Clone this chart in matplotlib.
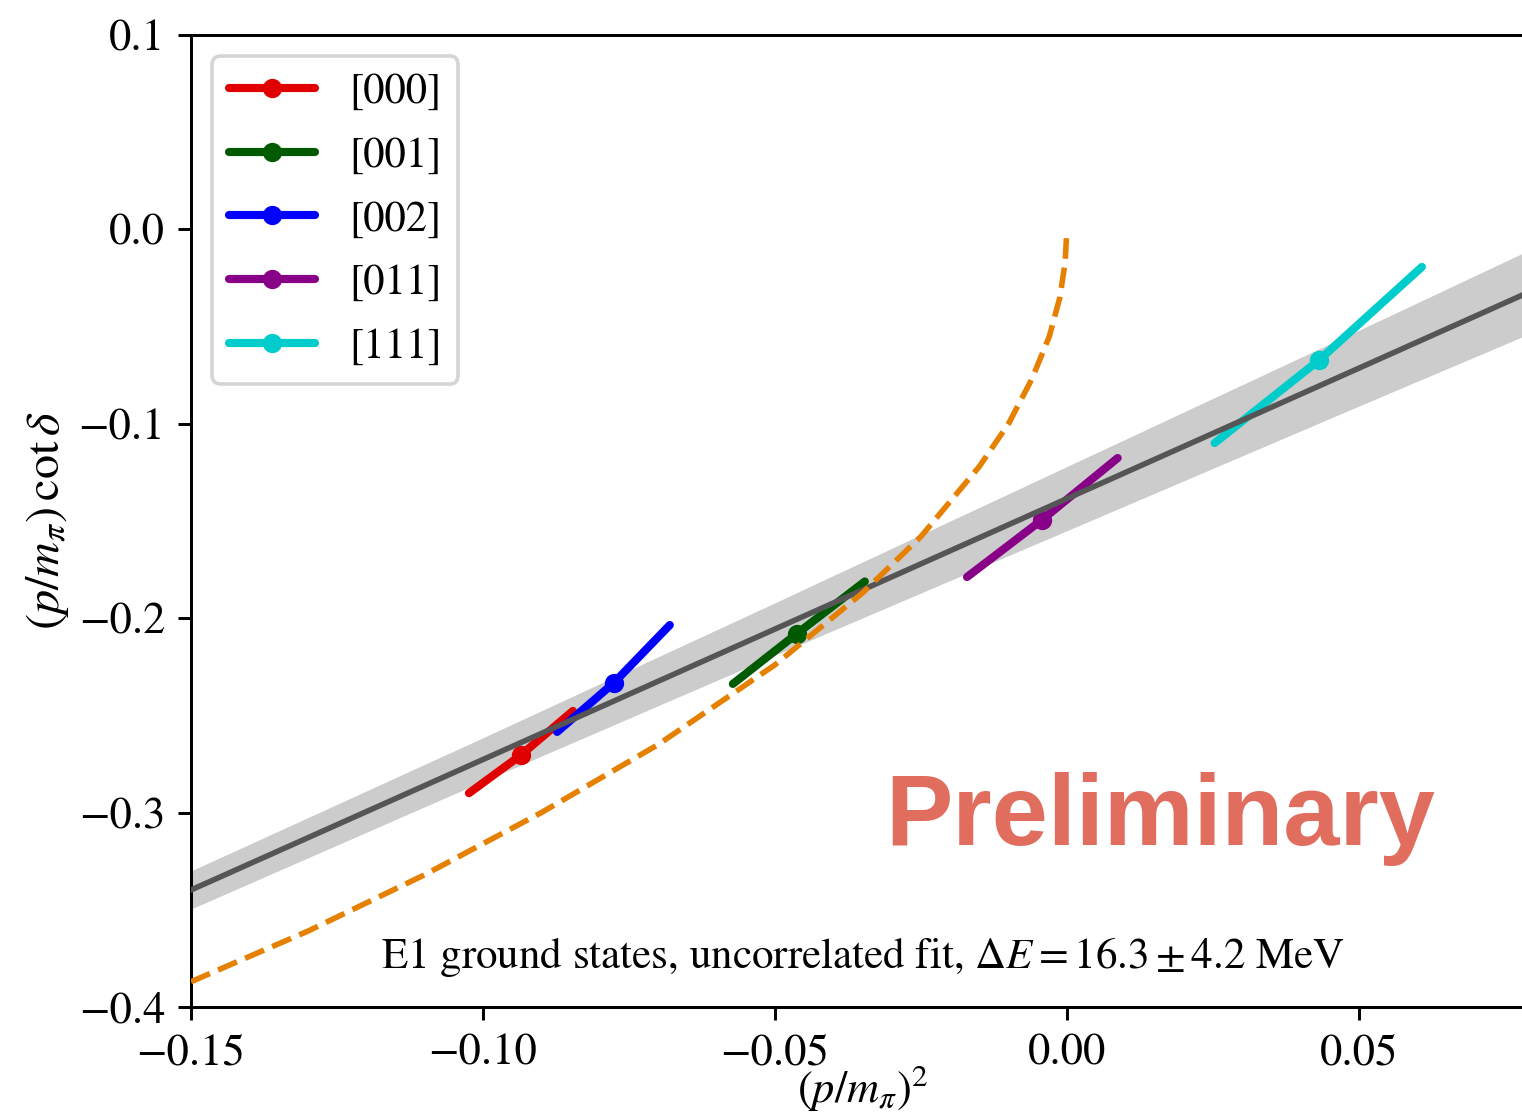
import numpy as np
import matplotlib
matplotlib.use("Agg")
from matplotlib import pyplot as plt
from matplotlib.lines import Line2D

plt.rcParams['font.family'] = 'STIXGeneral'
plt.rcParams['mathtext.fontset'] = 'stix'
plt.rcParams['font.size'] = 12

# data: each momentum frame gives a segment (lower end, central point, upper end)
labels = ['[000]', '[001]', '[002]', '[011]', '[111]']
colors = ['#e00000', '#005a00', '#0000ff', '#880088', '#00cccc']
x_lo = [-0.1024, -0.0572, -0.0873, -0.0171, 0.0253]
x_c = [-0.0935, -0.0463, -0.0776, -0.0043, 0.0432]
x_hi = [-0.0846, -0.0346, -0.0680, 0.0087, 0.0608]
y_lo = [-0.2900, -0.2338, -0.2585, -0.1788, -0.1099]
y_c = [-0.2704, -0.2081, -0.2333, -0.1495, -0.0672]
y_hi = [-0.2477, -0.1811, -0.2035, -0.1176, -0.0193]

# linear fit and its error band
band_x = [-0.15, -0.10, -0.05, 0.00, 0.05, 0.08]
fit_y = [-0.3398, -0.2727, -0.2056, -0.1385, -0.0714, -0.0311]
band_hw = [0.0098, 0.0112, 0.0135, 0.0165, 0.0195, 0.0216]

# bound state curve
curve_x = [-0.15, -0.13, -0.11, -0.09, -0.07, -0.05, -0.035, -0.025, -0.015,
           -0.01, -0.006, -0.003, -0.0012, -0.0003, 0.0]
curve_y = [-0.387, -0.361, -0.332, -0.300, -0.265, -0.224, -0.187, -0.158, -0.122,
           -0.100, -0.077, -0.055, -0.035, -0.017, 0.0]

dpi = 267
fig = plt.figure(figsize=(1522 / dpi, 1116 / dpi), dpi=dpi)
ax = fig.add_axes([191 / 1522, 109 / 1116, 1343 / 1522, 972 / 1116])

fy = np.array(fit_y)
hw = np.array(band_hw)
ax.fill_between(band_x, fy - hw, fy + hw, color='#cccccc', lw=0, zorder=1)

handles = []
for i in range(len(labels)):
    ax.plot([x_lo[i], x_c[i], x_hi[i]], [y_lo[i], y_c[i], y_hi[i]],
            color=colors[i], lw=2.2, solid_capstyle='round', zorder=2)
    ax.plot(x_c[i], y_c[i], 'o', color=colors[i], ms=4.2, zorder=2)
    handles.append(Line2D([], [], color=colors[i], lw=2.2, marker='o', ms=4.2,
                          solid_capstyle='round'))

ax.plot(band_x, fit_y, color='#555555', lw=1.5, zorder=3)
ax.plot(curve_x, curve_y, '--', color='#e68000', lw=1.5, zorder=4)

ax.set_xlim(-0.15, 0.08)
ax.set_ylim(-0.4, 0.1)
ax.set_xticks([-0.15, -0.10, -0.05, 0.00, 0.05])
ax.set_xticklabels(['\u22120.15', '\u22120.10', '\u22120.05', '0.00', '0.05'])
ax.set_yticks([0.1, 0.0, -0.1, -0.2, -0.3, -0.4])
ax.set_yticklabels(['0.1', '0.0', '\u22120.1', '\u22120.2', '\u22120.3', '\u22120.4'])
ax.set_xlabel(r'$(p/m_\pi)^2$', labelpad=-3)
ax.set_ylabel(r'$(p/m_\pi)\,\cot\delta$', labelpad=2, fontsize=13)

ax.legend(handles, labels, loc='upper left', fontsize=11.5, handletextpad=0.8,
          labelspacing=0.58)

ax.text(0.5, 0.051, r'E1 ground states, uncorrelated fit, $\Delta E = 16.3 \pm 4.2$ MeV',
        transform=ax.transAxes, ha='center', va='center', fontsize=11.6)
ax.text(0.0159, -0.3033, 'Preliminary', family='Liberation Sans', weight='bold',
        fontsize=27.2, color='#e06d5e', ha='center', va='center')

fig.savefig('out.png', dpi=dpi)
